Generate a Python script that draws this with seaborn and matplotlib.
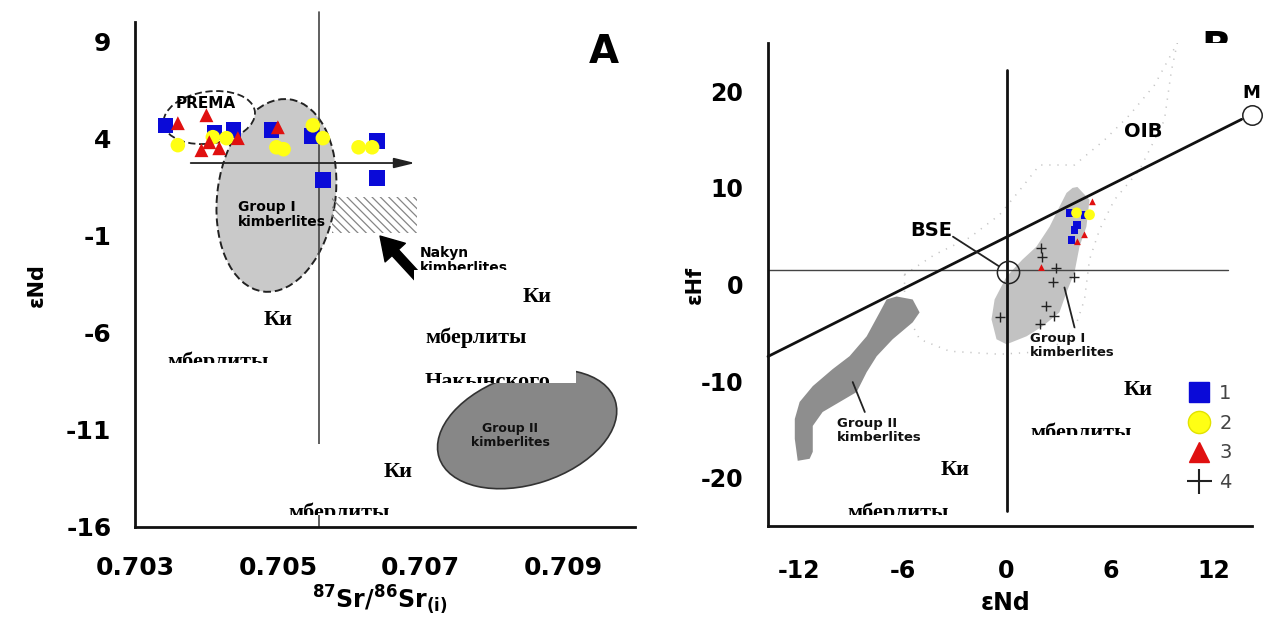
import matplotlib
matplotlib.use("Agg")
import numpy as np
import pandas as pd
import matplotlib.pyplot as plt
import seaborn as sns
from matplotlib.patches import Ellipse, Rectangle, Polygon
from matplotlib.lines import Line2D
from matplotlib.transforms import Bbox, TransformedBbox, ScaledTranslation

# ---------------- Panel A: 87Sr/86Sr(i) vs eNd ----------------
sr_1 = [0.70343, 0.70411, 0.70438, 0.70491, 0.70547, 0.70639, 0.70563, 0.70639]
nd_1 = [4.68, 4.32, 4.43, 4.43, 4.12, 3.86, 1.86, 1.96]
sr_2 = [0.70360, 0.70409, 0.70428, 0.70498, 0.70508, 0.70549, 0.70563, 0.70613, 0.70632]
nd_2 = [3.66, 4.07, 4.02, 3.55, 3.45, 4.68, 4.02, 3.55, 3.55]
sr_3 = [0.70360, 0.70400, 0.70393, 0.70404, 0.70418, 0.70444, 0.70500]
nd_3 = [4.79, 5.20, 3.40, 3.81, 3.50, 4.02, 4.58]

sr_ticks = [0.703, 0.705, 0.707, 0.709]
sr_minor = [0.704, 0.706, 0.708, 0.710]
nd_ticks = [9, 4, -1, -6, -11, -16]
nd_minor = [6.5, 1.5, -3.5, -8.5, -13.5]

bse_sr = 0.70558                      # vertical reference line
trend_sr = [0.70378, 0.70692]         # horizontal arrow
trend_nd = 2.74
nakyn_sr = [0.70576, 0.70695]         # hatched Nakyn field
nakyn_nd = [-0.87, 0.98]
prema_c = (0.70404, 5.08)
group1_c = (0.70498, 1.07)
group2_c = (0.70849, -10.96)

# ---------------- Panel B: eNd vs eHf ----------------
ndB_1 = [3.64, 4.51, 4.10, 3.93, 3.76]
hfB_1 = [7.42, 7.22, 6.19, 5.67, 4.64]
ndB_2 = [4.05, 4.80]
hfB_2 = [7.42, 7.22]
ndB_3 = [4.97, 4.51, 4.10, 2.02]
hfB_3 = [8.56, 5.15, 4.43, 1.75]
ndB_4 = [2.02, 2.08, 2.89, 3.93, 2.66, 2.31, 2.77, 1.91, -0.40]
hfB_4 = [3.81, 2.89, 1.75, 0.82, 0.21, -2.27, -3.30, -4.12, -3.40]

g1_nd = [4.10, 4.80, 4.62, 4.22, 3.93, 3.47, 3.06, 2.08, 1.16, 0.0, -0.58, -0.87,
         -0.69, 0.0, 0.92, 1.73, 2.49, 3.06, 3.47, 3.82]
g1_hf = [10.10, 8.76, 5.98, 3.92, 1.24, -0.82, -2.89, -4.33, -5.36, -6.19, -5.67,
         -3.61, -1.55, 0.82, 2.58, 3.92, 5.98, 8.04, 9.48, 10.0]
g2_nd = [-6.36, -5.43, -5.03, -5.43, -6.59, -7.51, -8.09, -8.67, -9.65, -10.64,
         -11.21, -11.21, -11.39, -12.08, -12.25, -12.25, -11.97, -11.21, -10.06,
         -9.08, -8.09, -7.34, -6.94]
g2_hf = [-1.24, -1.55, -2.89, -3.92, -5.67, -7.42, -9.07, -11.13, -12.16, -13.20,
         -14.64, -17.32, -18.04, -18.25, -15.98, -13.92, -12.16, -10.52, -8.76,
         -7.42, -5.36, -2.89, -1.55]
oib_nd = [-5.90, -4.16, -2.14, -0.40, 0.87, 1.91, 3.93, 5.66, 7.11, 8.55, 9.88,
          9.54, 9.13, 7.69, 6.24, 5.38, 4.80, 4.51, 3.93, 2.49, -0.40, -3.29,
          -5.03, -5.90]
oib_hf = [1.03, 3.09, 4.85, 7.22, 10.0, 12.37, 12.37, 14.95, 17.53, 20.62, 25.0,
          22.16, 17.01, 11.86, 8.76, 5.67, 2.58, -1.55, -4.64, -6.91, -7.22, -6.91,
          -5.67, -2.58]

mix_nd = [-13.8, 13.6]
mix_hf = [-7.45, 17.1]
chur_hf = 1.5
bse_pt = (0.1, 1.3)
m_pt = (14.2, 17.5)
ndB_ticks = [-12, -6, 0, 6, 12]
ndB_minor = [-9, -3, 3, 9]
hf_ticks = [20, 10, 0, -10, -20]
hf_minor = [25, 15, 5, -5, -15]

legend_labels = ["1", "2", "3", "4"]

BLUE, YELLOW, RED = "#0a0ad8", "#ffff14", "#e01010"
PAL = {"1": BLUE, "2": YELLOW, "3": RED}
MARK = {"1": "s", "2": "o", "3": "^"}

sns.set_style("white")
plt.rcParams["font.family"] = ["DejaVu Sans"]
plt.rcParams["mathtext.fontset"] = "dejavusans"
plt.rcParams["hatch.color"] = "#858585"
plt.rcParams["hatch.linewidth"] = 0.9
for key in ("text.color", "axes.labelcolor", "xtick.color", "ytick.color"):
    plt.rcParams[key] = "black"

W, H = 1264, 628
fig = plt.figure(figsize=(W / 100, H / 100), dpi=100)
fig.patch.set_facecolor("white")


def px_rect(x0, y0, x1, y1):
    return [x0 / W, 1 - y1 / H, (x1 - x0) / W, (y1 - y0) / H]


ax1 = fig.add_axes(px_rect(135, 22, 635, 527))
ax2 = fig.add_axes(px_rect(768, 43, 1252, 526))


def tilted_ellipse(ax, center, w_in, h_in, angle, **kw):
    tr = fig.dpi_scale_trans + ScaledTranslation(center[0], center[1], ax.transData)
    e = Ellipse((0, 0), w_in, h_in, angle=angle, transform=tr, **kw)
    ax.add_patch(e)
    return e


# ---------- Panel A ----------
ax1.set_xlim(0.703, 0.710)
ax1.set_ylim(-16, 10)

tilted_ellipse(ax1, group2_c, 1.85, 1.10, 18, facecolor="#878787",
               edgecolor="#333333", lw=1.2, zorder=1)
tilted_ellipse(ax1, group1_c, 1.94, 1.18, 82, facecolor="#c9c9c9",
               edgecolor="#222222", lw=1.4, ls=(0, (4, 2)), zorder=1)
tilted_ellipse(ax1, prema_c, 0.92, 0.52, 8, facecolor="white",
               edgecolor="#222222", lw=1.3, ls=(0, (4, 2)), zorder=2)
ax1.add_patch(Rectangle((nakyn_sr[0], nakyn_nd[0]), nakyn_sr[1] - nakyn_sr[0],
                        nakyn_nd[1] - nakyn_nd[0], fill=False, hatch="\\\\\\\\",
                        edgecolor="#858585", lw=0, zorder=2))

ax1.plot([bse_sr, bse_sr], [10.5, -16], color="#444444", lw=1.2, zorder=2,
         clip_on=False)
ax1.annotate("", xy=(trend_sr[1], trend_nd), xytext=(trend_sr[0], trend_nd),
             arrowprops=dict(arrowstyle="-|>,head_length=0.9,head_width=0.22",
                             color="#222222", lw=1.3, mutation_scale=14,
                             shrinkA=0, shrinkB=0), zorder=3)
ax1.annotate("", xy=(0.70643, -1.02), xytext=(0.70706, -3.54),
             arrowprops=dict(arrowstyle="simple,head_length=0.9,head_width=1.1,tail_width=0.35",
                             color="black", mutation_scale=18, shrinkA=0, shrinkB=0),
             zorder=3)

dfA = pd.DataFrame({
    "sr": sr_1 + sr_2 + sr_3,
    "nd": nd_1 + nd_2 + nd_3,
    "type": ["1"] * len(sr_1) + ["2"] * len(sr_2) + ["3"] * len(sr_3),
})
sns.scatterplot(data=dfA, x="sr", y="nd", hue="type", style="type", size="type",
                palette=PAL, markers=MARK, sizes={"1": 125, "2": 110, "3": 100},
                linewidth=0, legend=False, ax=ax1, zorder=5)

ax1.text(prema_c[0] - 0.00005, 5.8, "PREMA", fontsize=11, fontweight="bold",
         ha="center", va="center", zorder=6)
ax1.text(0.70444, 0.85, "Group I\nkimberlites", fontsize=10, fontweight="bold",
         ha="left", va="top", linespacing=1.15, zorder=6)
ax1.text(0.70825, -11.3, "Group II\nkimberlites", fontsize=9, fontweight="bold",
         ha="center", va="center", linespacing=1.15, color="#111111", zorder=6)
ax1.text(0.70699, -1.54, "Nakyn\nkimberlites", fontsize=10, fontweight="bold",
         ha="left", va="top", linespacing=1.1, zorder=6)
ax1.text(0.938, 0.94, "A", transform=ax1.transAxes, fontsize=28,
         fontweight="bold", ha="center", va="center")

ax1.set_xticks(sr_ticks)
ax1.set_xticklabels([f"{v:.3f}" for v in sr_ticks])
ax1.set_xticks(sr_minor, minor=True)
ax1.set_yticks(nd_ticks)
ax1.set_yticklabels([str(v) for v in nd_ticks])
ax1.set_yticks(nd_minor, minor=True)
ax1.tick_params(axis="x", which="major", length=10, width=2, pad=11, labelsize=18)
ax1.tick_params(axis="x", which="minor", length=5, width=2)
ax1.tick_params(axis="y", which="both", length=9, width=2, pad=8, labelsize=18)
ax1.set_xlabel(r"$^{\mathbf{87}}$Sr/$^{\mathbf{86}}$Sr$_{\mathbf{(i)}}$",
               fontsize=17, fontweight="bold")
ax1.xaxis.set_label_coords(0.49, -0.145)
ax1.xaxis.label.set_va("center")
ax1.set_ylabel("εNd", fontsize=15, fontweight="bold")
ax1.yaxis.set_label_coords(-0.196, 0.479)
ax1.yaxis.label.set_va("center")

# ---------- Panel B ----------
ax2.set_xlim(-13.8, 14.2)
ax2.set_ylim(-25, 25)

ax2.plot(oib_nd + oib_nd[:1], oib_hf + oib_hf[:1], color="#c4c4c4", lw=1.1,
         ls=(0, (0.8, 4.5)), zorder=1)
ax2.add_patch(Polygon(np.column_stack([g1_nd, g1_hf]), closed=True,
                      facecolor="#c2c2c2", edgecolor="none", zorder=1))
ax2.add_patch(Polygon(np.column_stack([g2_nd, g2_hf]), closed=True,
                      facecolor="#8e8e8e", edgecolor="none", zorder=1))

ax2.plot([-13.8, 12.8], [chur_hf, chur_hf], color="#444444", lw=1.0, zorder=2)
ax2.plot([0, 0], [-23.4, 22.2], color="#111111", lw=2.0, zorder=2)
ax2.plot(mix_nd, mix_hf, color="#111111", lw=2.0, zorder=2, clip_on=False)
ax2.plot(*bse_pt, marker="o", ms=16, mfc="none", mec="#222222", mew=1.1,
         zorder=3)
ax2.plot(*m_pt, marker="o", ms=14, mfc="white", mec="#222222", mew=1.1,
         zorder=3, clip_on=False)
ax2.plot([-3.1, -0.45], [4.95, 1.9], color="#222222", lw=1.3, zorder=3)
ax2.plot([3.35, 3.93], [-0.31, -4.43], color="#222222", lw=1.3, zorder=3)
ax2.plot([-8.9, -8.2], [-10.1, -13.2], color="#222222", lw=1.3, zorder=3)

dfB = pd.DataFrame({
    "nd": ndB_1 + ndB_2 + ndB_3,
    "hf": hfB_1 + hfB_2 + hfB_3,
    "type": ["1"] * len(ndB_1) + ["2"] * len(ndB_2) + ["3"] * len(ndB_3),
})
sns.scatterplot(data=dfB, x="nd", y="hf", hue="type", style="type", size="type",
                palette=PAL, markers=MARK, sizes={"1": 32, "2": 60, "3": 24},
                linewidth=0, legend=False, ax=ax2, zorder=5)
sns.scatterplot(x=ndB_4, y=hfB_4, marker="+", color="#222222", s=45,
                linewidth=1.0, ax=ax2, zorder=5)

ax2.text(-4.34, 5.6, "BSE", fontsize=14, fontweight="bold", ha="center",
         va="center", zorder=6)
ax2.text(7.9, 15.8, "OIB", fontsize=14, fontweight="bold", ha="center",
         va="center", zorder=6)
ax2.text(13.65, 19.8, "M", fontsize=13, fontweight="bold", ha="left",
         va="center", zorder=6, clip_on=False)
ax2.text(1.33, -4.95, "Group I\nkimberlites", fontsize=9.5, fontweight="bold",
         ha="left", va="top", linespacing=1.1, color="#111111", zorder=6)
ax2.text(-9.83, -13.7, "Group II\nkimberlites", fontsize=9.5, fontweight="bold",
         ha="left", va="top", linespacing=1.1, color="#111111", zorder=6)

ax2.set_xticks(ndB_ticks)
ax2.set_xticklabels([str(v) for v in ndB_ticks])
ax2.set_xticks(ndB_minor, minor=True)
ax2.set_yticks(hf_ticks)
ax2.set_yticklabels([str(v) for v in hf_ticks])
ax2.set_yticks(hf_minor, minor=True)
ax2.tick_params(axis="x", which="major", length=12, width=2, pad=12, labelsize=17)
ax2.tick_params(axis="x", which="minor", length=7, width=2)
ax2.tick_params(axis="y", which="major", length=12, width=2, pad=6, labelsize=17)
ax2.tick_params(axis="y", which="minor", length=7, width=2)
ax2.set_xlabel("εNd", fontsize=17, fontweight="bold")
ax2.xaxis.set_label_coords(0.49, -0.16)
ax2.xaxis.label.set_va("center")
ax2.set_ylabel("εHf", fontsize=15, fontweight="bold")
ax2.yaxis.set_label_coords(-0.151, 0.499)
ax2.yaxis.label.set_va("center")

handles = [
    Line2D([], [], ls="", marker="s", ms=15, mfc=BLUE, mec=BLUE),
    Line2D([], [], ls="", marker="o", ms=16, mfc=YELLOW, mec="#e2e200"),
    Line2D([], [], ls="", marker="^", ms=14, mfc=RED, mec=RED),
    Line2D([], [], ls="", marker="+", ms=18, mec="#222222", mew=1.5),
]
leg = ax2.legend(handles, legend_labels, loc="center left",
                 bbox_to_anchor=(0.846, 0.182), frameon=False, fontsize=14,
                 labelspacing=0.55, handletextpad=0.45, borderpad=0,
                 handlelength=1.2)
for t in leg.get_texts():
    t.set_color("#444444")

for ax in (ax1, ax2):
    ax.set_facecolor("none")
    for side in ("top", "right"):
        ax.spines[side].set_visible(False)
    for side in ("left", "bottom"):
        ax.spines[side].set_linewidth(2.0)
        ax.spines[side].set_color("#111111")
    for lbl in ax.get_xticklabels() + ax.get_yticklabels():
        lbl.set_fontweight("bold")

# ---------- panel letter B (lower part masked) ----------
fx = lambda x: x / W
fy = lambda y: 1 - y / H
tb = fig.text(fx(1216), fy(30), "B", fontsize=28, fontweight="bold",
              ha="center", va="top", zorder=8)
tb.set_clip_box(TransformedBbox(Bbox.from_extents(fx(1180), fy(43), fx(1260), fy(0)),
                                fig.transFigure))
tb.set_clip_on(True)

# ---------- caption boxes ----------
captions = [
    ((158, 296, 305, 363), [("Ки", 293, 325, "right"), ("мберлиты", 167, 367, "left")]),
    ((414, 270, 576, 383), [("Ки", 552, 302, "right"), ("мберлиты", 425, 343, "left"),
                            ("Накынского", 425, 387, "left")]),
    ((284, 444, 428, 515), [("Ки", 413, 477, "right"), ("мберлиты", 288, 518, "left")]),
    ((1025, 372, 1165, 435), [("Ки", 1153, 395, "right"), ("мберлиты", 1030, 438, "left")]),
    ((843, 450, 980, 515), [("Ки", 970, 475, "right"), ("мберлиты", 847, 518, "left")]),
]
for (x0, y0, x1, y1), lines in captions:
    fig.add_artist(Rectangle((fx(x0), fy(y1)), fx(x1) - fx(x0), fy(y0) - fy(y1),
                             transform=fig.transFigure, facecolor="white",
                             edgecolor="none", zorder=9))
    clip = TransformedBbox(Bbox.from_extents(fx(x0), fy(y1), fx(x1), fy(y0)),
                           fig.transFigure)
    for txt, x, y, ha in lines:
        t = fig.text(fx(x), fy(y), txt, fontsize=16, fontweight="bold",
                     family="Liberation Serif", ha=ha, va="baseline", zorder=10)
        t.set_clip_box(clip)
        t.set_clip_on(True)

fig.savefig("out.png", dpi=100)
